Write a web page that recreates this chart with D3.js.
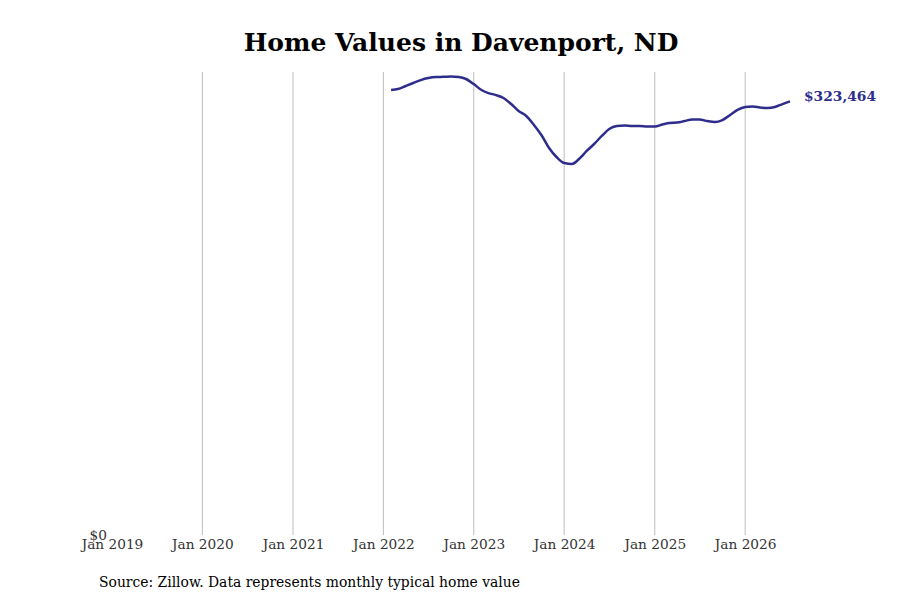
<!DOCTYPE html>
<html>
<head>
<meta charset="utf-8">
<script src="https://cdn.jsdelivr.net/npm/d3@7"></script>
<style>
  body { margin: 0; background: #fff; }
  svg { font-family: "DejaVu Serif", serif; }
</style>
</head>
<body>
<div id="chart"></div>
<script>
// Monthly typical home value, Feb 2022 - Jul 2026
var months = [
  "2022-02", "2022-03", "2022-04", "2022-05", "2022-06", "2022-07", "2022-08", "2022-09", "2022-10", "2022-11", "2022-12",
  "2023-01", "2023-02", "2023-03", "2023-04", "2023-05", "2023-06", "2023-07", "2023-08", "2023-09", "2023-10", "2023-11", "2023-12",
  "2024-01", "2024-02", "2024-03", "2024-04", "2024-05", "2024-06", "2024-07", "2024-08", "2024-09", "2024-10", "2024-11", "2024-12",
  "2025-01", "2025-02", "2025-03", "2025-04", "2025-05", "2025-06", "2025-07", "2025-08", "2025-09", "2025-10", "2025-11", "2025-12",
  "2026-01", "2026-02", "2026-03", "2026-04", "2026-05", "2026-06", "2026-07"
];
var values = [
  332000, 332700, 335000, 337200, 339400, 340900, 341700, 341800, 342000, 341700, 340200,
  336400, 332000, 329700, 328200, 326000, 321500, 316300, 312600, 305900, 298400, 288700, 282000,
  277500, 276800, 280500, 286500, 291700, 297700, 302900, 305100, 305500, 305100, 305100, 304700,
  304700, 306200, 307400, 307700, 308800, 310000, 310000, 308800, 308100, 309600, 313300, 317100,
  319300, 319700, 318900, 318500, 319300, 321500, 323464
];
var tickYears = [2019, 2020, 2021, 2022, 2023, 2024, 2025, 2026];

var width = 900, height = 600;
var margin = { top: 72, right: 110, bottom: 65, left: 112 };

var parse = d3.timeParse("%Y-%m");
var data = months.map((m, i) => ({ date: parse(m), value: values[i] }));

var svg = d3.select("#chart").append("svg")
  .attr("width", width)
  .attr("height", height);

var x = d3.scaleTime()
  .domain([new Date(2019, 0, 1), data[data.length - 1].date])
  .range([margin.left, width - margin.right]);

var y = d3.scaleLinear()
  .domain([0, d3.max(values) * 1.01])
  .range([height - margin.bottom, margin.top]);

// Vertical gridlines
svg.append("g")
  .selectAll("line")
  .data(tickYears.slice(1))
  .enter().append("line")
  .attr("x1", d => x(new Date(d, 0, 1)))
  .attr("x2", d => x(new Date(d, 0, 1)))
  .attr("y1", y.range()[1])
  .attr("y2", y.range()[0])
  .attr("stroke", "#bdbdbd")
  .attr("stroke-width", 1);

// X axis
var xAxis = d3.axisBottom(x)
  .tickValues(tickYears.map(d => new Date(d, 0, 1)))
  .tickFormat(d3.timeFormat("Jan %Y"))
  .tickSize(0)
  .tickPadding(4);

svg.append("g")
  .attr("transform", "translate(0," + (height - margin.bottom) + ")")
  .call(xAxis)
  .call(g => g.select(".domain").remove())
  .selectAll("text")
  .style("font-family", "DejaVu Serif")
  .style("font-size", "13.7px")
  .attr("fill", "#333");

// Y axis (only $0)
var yAxis = d3.axisLeft(y)
  .tickValues([0])
  .tickFormat(d => "$" + d3.format(",")(d))
  .tickSize(0)
  .tickPadding(5);

svg.append("g")
  .attr("transform", "translate(" + margin.left + ",0)")
  .call(yAxis)
  .call(g => g.select(".domain").remove())
  .selectAll("text")
  .style("font-family", "DejaVu Serif")
  .style("font-size", "13.7px")
  .attr("fill", "#333");

// Line
var line = d3.line()
  .x(d => x(d.date))
  .y(d => y(d.value))
  .curve(d3.curveMonotoneX);

svg.append("path")
  .datum(data)
  .attr("fill", "none")
  .attr("stroke", "#2e2d8c")
  .attr("stroke-width", 2.5)
  .attr("d", line);

// End label
var last = data[data.length - 1];
svg.append("text")
  .attr("x", x(last.date) + 14)
  .attr("y", y(last.value))
  .attr("dy", "-0.05em")
  .attr("fill", "#2e2d8c")
  .style("font-size", "13.8px")
  .style("font-weight", "bold")
  .text("$" + d3.format(",")(last.value));

// Title
svg.append("text")
  .attr("x", 461)
  .attr("y", 51)
  .attr("text-anchor", "middle")
  .style("font-size", "25px")
  .style("font-weight", "bold")
  .attr("fill", "#000")
  .text("Home Values in Davenport, ND");

// Source note
svg.append("text")
  .attr("x", 99)
  .attr("y", 587)
  .style("font-size", "13.9px")
  .attr("fill", "#000")
  .text("Source: Zillow. Data represents monthly typical home value");
</script>
</body>
</html>
